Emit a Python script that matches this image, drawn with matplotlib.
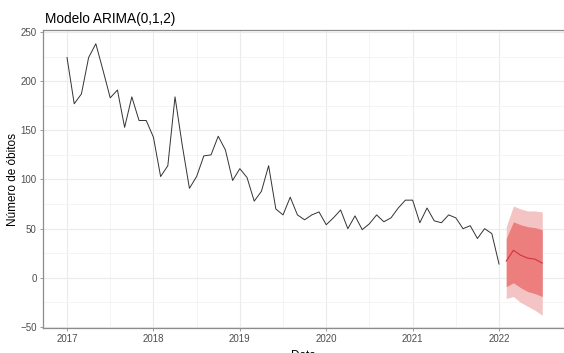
import numpy as np
import matplotlib.pyplot as plt

plt.rcParams['font.family'] = ['Liberation Sans', 'DejaVu Sans']

# óbitos mensais, jan/2017 a jan/2022
obitos = [224, 177, 187, 224, 238, 211, 183, 191, 153, 184, 160, 160,
          143, 103, 114, 184, 135, 91, 103, 124, 125, 144, 130, 99,
          111, 102, 78, 88, 114, 70, 64, 82, 64, 59, 64, 67,
          54, 61, 69, 50, 63, 49, 55, 64, 57, 61, 71, 79,
          79, 56, 71, 58, 56, 64, 61, 50, 53, 40, 50, 45,
          14]

# previsão fev/2022 a jul/2022
prev = [17, 28, 23, 20, 19, 15]
lo80 = [-9, -5, -10, -14, -16, -19]
hi80 = [40, 57, 54, 52, 51, 49]
lo95 = [-21, -19, -25, -29, -33, -38]
hi95 = [52, 73, 70, 68, 68, 67]

anos = [2017, 2018, 2019, 2020, 2021, 2022]

t = 2017 + np.arange(len(obitos)) / 12
tp = t[-1] + np.arange(1, len(prev) + 1) / 12

fig = plt.figure(figsize=(5.64, 3.53), dpi=100)
ax = fig.add_axes([43 / 564, 1 - 328 / 353, 1 - 43 / 564, 298 / 353])

ax.fill_between(tp, lo95, hi95, color='#F4C3C3', lw=0)
ax.fill_between(tp, lo80, hi80, color='#EC7E7E', lw=0)
ax.plot(tp, prev, color='#D1343A', lw=0.8)
ax.plot(t, obitos, color='#333333', lw=0.7)

ax.set_xlim(2016.722, 2022.752)
ax.set_ylim(-51, 252)
ax.set_xticks(anos)
ax.set_xticklabels([str(a) for a in anos])
ax.set_xticks(np.array(anos[:-1]) + 0.5, minor=True)
ax.set_yticks(np.arange(-50, 251, 50))
ax.set_yticks(np.arange(-25, 251, 50), minor=True)
ax.grid(which='major', color='#EBEBEB', lw=0.8)
ax.grid(which='minor', color='#F3F3F3', lw=0.6)
ax.set_axisbelow(True)

for s in ['left', 'bottom', 'top']:
    ax.spines[s].set_color('#8C8C8C')
    ax.spines[s].set_linewidth(0.9)
ax.spines['right'].set_visible(False)

ax.tick_params(which='major', length=2.5, width=0.6, color='#8C8C8C',
               labelsize=7, labelcolor='#4D4D4D', pad=2)
ax.tick_params(which='minor', length=0)

ax.set_title('Modelo ARIMA(0,1,2)', loc='left', fontsize=9.8, pad=5, x=0.003)
ax.set_ylabel('Número de óbitos', fontsize=8.5, labelpad=1)
ax.set_xlabel('Data', fontsize=8.5, labelpad=4)

fig.savefig('out.png', dpi=100)
